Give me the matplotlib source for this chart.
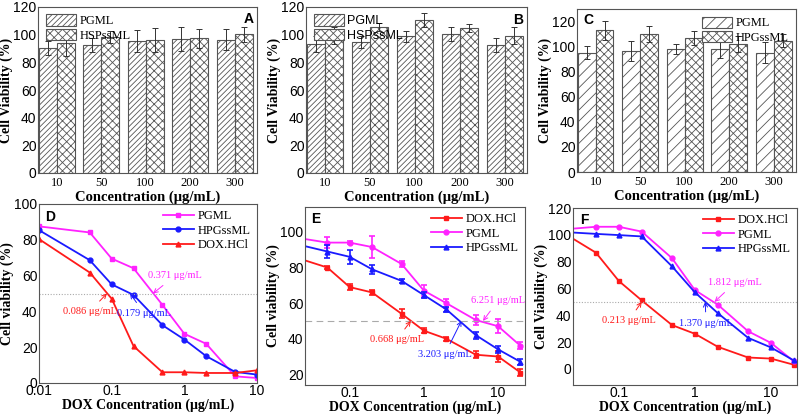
import numpy as np
import matplotlib
matplotlib.use("Agg")
import matplotlib.pyplot as plt
from matplotlib.ticker import NullLocator

plt.rcParams['hatch.linewidth'] = 0.6
SANS = 'Liberation Sans'
SERIF = 'Liberation Serif'

# ---- bar panels (A, B, C) ----
conc_labels = ['10', '50', '100', '200', '300']

a_pgml = [90.6, 92.5, 95.4, 97.0, 96.3]
a_pgml_err = [5.0, 4.8, 8.0, 8.5, 7.5]
a_hsp = [93.7, 98.3, 96.3, 97.5, 100.2]
a_hsp_err = [9.0, 4.2, 8.8, 6.8, 5.4]

b_pgml = [93.1, 94.8, 98.7, 100.4, 92.4]
b_pgml_err = [5.7, 4.2, 4.0, 4.8, 5.0]
b_hsp = [99.4, 105.4, 110.8, 104.7, 99.2]
b_hsp_err = [6.0, 3.0, 5.2, 3.0, 6.0]

c_pgml = [95.3, 96.8, 98.4, 98.2, 95.3]
c_pgml_err = [5.3, 7.9, 4.0, 7.0, 8.0]
c_hpg = [112.9, 110.0, 107.1, 102.1, 104.7]
c_hpg_err = [7.3, 6.3, 5.7, 6.2, 5.1]

# ---- line panels (D, E, F) ----
dose_d = [0.01, 0.05, 0.1, 0.2, 0.5, 1, 2, 5, 10]
d_pgml = [87.5, 84.1, 69.5, 64.1, 43.6, 27.5, 21.9, 3.7, 2.8]
d_hpg = [85.4, 68.6, 55.1, 49.2, 32.3, 24.3, 15.0, 6.2, 4.7]
d_dox = [80.4, 61.7, 47.1, 20.6, 6.0, 6.0, 5.6, 5.6, 7.1]

dose_ef = [0.025, 0.05, 0.1, 0.2, 0.5, 1, 2, 5, 10, 20]
e_dox = [84, 80, 69, 66, 54, 44.5, 40, 31, 30, 21]
e_dox_err = [0, 1, 1.5, 1.5, 2.5, 1.5, 1, 2, 3, 2]
e_pgml = [96, 94, 94, 91.5, 82, 67, 60, 50.5, 47, 36]
e_pgml_err = [0, 3, 1, 6, 1.5, 3, 2.5, 3, 4, 2]
e_hpg = [92, 89, 86, 79, 72.5, 64.5, 56.5, 42, 34, 27]
e_hpg_err = [0, 3.5, 4, 2.5, 1, 1.5, 1.5, 2, 2, 1.5]

f_dox = [97.1, 86.7, 65.6, 51.1, 32.7, 26.2, 16.5, 8.5, 7.7, 3.1]
f_pgml = [104.6, 106, 106, 102.4, 82.6, 58.8, 47.9, 28.1, 19.4, 5.6]
f_hpg = [101.7, 100.7, 99.8, 98.8, 76.5, 57.1, 41.6, 23.2, 16, 6.3]

RED = '#ff1a1a'
MAG = '#ff22ff'
BLUE = '#1a1aff'

fig = plt.figure(figsize=(8, 4.17), dpi=100)


def px(l, t, r, b):
    return [l / 800, 1 - b / 417, (r - l) / 800, (b - t) / 417]


def bar_panel(rect, s1, e1, s2, e2, names, hatches, ylim, letter, letter_pos, legend_loc, legend_font):
    ax = fig.add_axes(px(*rect))
    x = np.arange(len(conc_labels))
    w = 0.4
    ekw = dict(ecolor='#333333', elinewidth=0.7, capsize=2, capthick=0.7)
    ax.bar(x - w / 2, s1, w, yerr=e1, color='white', edgecolor='#555555', hatch=hatches[0],
           lw=0.8, error_kw=ekw, label=names[0])
    ax.bar(x + w / 2, s2, w, yerr=e2, color='white', edgecolor='#555555', hatch=hatches[1],
           lw=0.8, error_kw=ekw, label=names[1])
    ax.set_xlim(-0.42, 4.5)
    ax.set_ylim(*ylim)
    ax.set_yticks(range(0, 121, 20))
    ax.set_xticks(x)
    ax.set_xticklabels(conc_labels, fontfamily=SERIF, fontsize=9)
    for t in ax.get_yticklabels():
        t.set_fontfamily(SANS)
        t.set_fontsize(10)
    ax.tick_params(length=0, pad=1)
    ax.tick_params(axis='x', pad=3)
    ax.set_xlabel('Concentration (μg/mL)', fontfamily=SERIF, fontweight='bold', fontsize=10.5, labelpad=1)
    ax.set_ylabel('Cell Viability (%)', fontfamily=SERIF, fontweight='bold', fontsize=10, labelpad=0)
    ax.text(*letter_pos, letter, transform=ax.transAxes, fontfamily=SANS, fontweight='bold', fontsize=10,
            ha='center', va='center')
    ax.legend(loc=legend_loc, frameon=False, prop=dict(family=legend_font, size=9),
              handlelength=2.4, handleheight=1.0, borderaxespad=0.2, labelspacing=0.15, handletextpad=0.3)
    for s in ax.spines.values():
        s.set_color('#555555')
    return ax


bar_panel((38, 7, 257, 173), a_pgml, a_pgml_err, a_hsp, a_hsp_err, ['PGML', 'HSPssML'],
          ['//////', 'xxxx'], (0, 120), 'A', (0.96, 0.93), 'upper left', SERIF)
bar_panel((306, 7, 527, 173), b_pgml, b_pgml_err, b_hsp, b_hsp_err, ['PGML', 'HSPssML'],
          ['//////', 'xxxx'], (0, 120), 'B', (0.96, 0.92), 'upper left', SANS)
bar_panel((577, 9, 796, 172), c_pgml, c_pgml_err, c_hpg, c_hpg_err, ['PGML', 'HPGssML'],
          ['///', 'xxxx'], (0, 130), 'C', (0.05, 0.93), 'upper right', SERIF)


def line_axes(rect, xlim, ylim, xticks, xticklabels, yticks):
    ax = fig.add_axes(px(*rect))
    ax.set_xscale('log')
    ax.set_xlim(*xlim)
    ax.set_ylim(*ylim)
    ax.set_xticks(xticks)
    ax.set_xticklabels(xticklabels)
    ax.xaxis.set_minor_locator(NullLocator())
    ax.set_yticks(yticks)
    return ax


def line_style(ax, ylabel, letter):
    ax.tick_params(length=0, pad=1, which='both')
    ax.tick_params(axis='x', pad=1)
    for t in ax.get_xticklabels() + ax.get_yticklabels():
        t.set_fontfamily(SANS)
        t.set_fontsize(10)
    ax.set_xlabel('DOX Concentration (μg/mL)', fontfamily=SERIF, fontweight='bold', fontsize=10, labelpad=0)
    ax.set_ylabel(ylabel, fontfamily=SERIF, fontweight='bold', fontsize=10, labelpad=0)
    ax.text(0.05, 0.93, letter, transform=ax.transAxes, fontfamily=SANS, fontweight='bold', fontsize=10,
            ha='center', va='center')
    for s in ax.spines.values():
        s.set_color('#555555')
    ax.legend(loc='upper right', frameon=False, prop=dict(family=SERIF, size=9), handlelength=2.5,
              borderaxespad=0.1, labelspacing=0.2, handletextpad=0.3)


def note(ax, text, xy, xytext, color):
    ax.annotate(text, xy=xy, xytext=xytext, color=color, fontfamily=SERIF, fontsize=7.5,
                ha='center', va='center',
                arrowprops=dict(arrowstyle='->', color=color, lw=0.7, shrinkA=3, shrinkB=0))


# D
ax = line_axes((39, 204, 257, 383), (0.01, 10), (0, 100), [0.01, 0.1, 1, 10],
               ['0.01', '0.1', '1', '10'], range(0, 101, 20))
ax.plot(dose_d, d_pgml, '-s', color=MAG, ms=3.5, lw=1.3, label='PGML')
ax.plot(dose_d, d_hpg, '-o', color=BLUE, ms=3.5, lw=1.3, label='HPGssML')
ax.plot(dose_d, d_dox, '-^', color=RED, ms=3.5, lw=1.3, label='DOX.HCl')
ax.axhline(50, color='#aaaaaa', lw=0.8, ls=(0, (1, 1.5)))
note(ax, '0.371 μg/mL', (0.37, 50), (0.75, 60), MAG)
note(ax, '0.086 μg/mL', (0.086, 50), (0.05, 40), RED)
note(ax, '0.179 μg/mL', (0.179, 50), (0.28, 39), BLUE)
line_style(ax, 'Cell viability (%)', 'D')

# E
ax = line_axes((305, 207, 525, 385), (0.025, 23), (14, 114), [0.1, 1, 10],
               ['0.1', '1', '10'], range(20, 101, 20))
for vals, errs, mk, col, name in [(e_dox, e_dox_err, 's', RED, 'DOX.HCl'),
                                   (e_pgml, e_pgml_err, 'o', MAG, 'PGML'),
                                   (e_hpg, e_hpg_err, '^', BLUE, 'HPGssML')]:
    ax.plot(dose_ef, vals, '-' + mk, color=col, ms=3.5, lw=1.3, markevery=slice(1, None), label=name)
    ax.errorbar(dose_ef[1:], vals[1:], yerr=errs[1:], fmt='none', ecolor=col, capsize=2,
                elinewidth=1.2, capthick=1.2)
ax.axhline(50, color='#aaaaaa', lw=0.8, ls=(0, (6, 4)))
note(ax, '0.668 μg/mL', (0.668, 50), (0.43, 39.5), RED)
note(ax, '3.203 μg/mL', (3.2, 50), (1.9, 31), BLUE)
note(ax, '6.251 μg/mL', (6.25, 50), (10, 61.5), MAG)
line_style(ax, 'Cell viability (%)', 'E')

# F
ax = line_axes((573, 208, 797, 385), (0.025, 22), (-12, 120), [0.1, 1, 10],
               ['0.1', '1', '10'], range(0, 121, 20))
ax.plot(dose_ef, f_dox, '-s', color=RED, ms=3.5, lw=1.3, markevery=slice(1, None), label='DOX.HCl')
ax.plot(dose_ef, f_pgml, '-o', color=MAG, ms=3.5, lw=1.3, markevery=slice(1, None), label='PGML')
ax.plot(dose_ef, f_hpg, '-^', color=BLUE, ms=3.5, lw=1.3, markevery=slice(1, None), label='HPGssML')
ax.axhline(50, color='#aaaaaa', lw=0.8, ls=(0, (1, 1.5)))
note(ax, '0.213 μg/mL', (0.2, 50), (0.135, 36), RED)
note(ax, '1.370 μg/mL', (1.37, 50), (1.4, 34), BLUE)
note(ax, '1.812 μg/mL', (1.812, 50), (3.4, 64.5), MAG)
line_style(ax, 'Cell Viability (%)', 'F')

fig.savefig('out.png', dpi=100)
